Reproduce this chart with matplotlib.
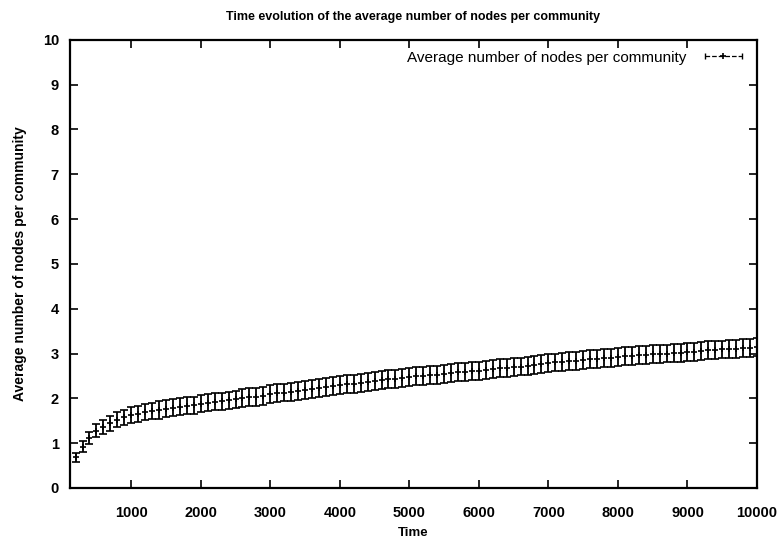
import numpy as np
import matplotlib
matplotlib.use("Agg")
import matplotlib.pyplot as plt
from matplotlib.lines import Line2D
from matplotlib.legend_handler import HandlerTuple, HandlerLine2D

plt.rcParams["font.family"] = ["Liberation Sans", "DejaVu Sans"]

# sampling times
times = np.arange(200, 10001, 100)

# average number of nodes per community
avgNodes = [
    0.68, 0.92, 1.12, 1.28, 1.36, 1.44, 1.52, 1.58, 1.63, 1.66,
    1.69, 1.72, 1.74, 1.77, 1.79, 1.81, 1.83, 1.85, 1.88, 1.90,
    1.92, 1.94, 1.96, 1.98, 2.00, 2.02, 2.04, 2.06, 2.09, 2.11,
    2.13, 2.15, 2.17, 2.19, 2.21, 2.23, 2.25, 2.27, 2.29, 2.31,
    2.33, 2.35, 2.37, 2.39, 2.41, 2.43, 2.44, 2.46, 2.47, 2.49,
    2.50, 2.52, 2.53, 2.55, 2.56, 2.58, 2.59, 2.61, 2.62, 2.64,
    2.65, 2.67, 2.68, 2.70, 2.71, 2.73, 2.75, 2.77, 2.78, 2.80,
    2.81, 2.83, 2.84, 2.85, 2.87, 2.88, 2.89, 2.91, 2.92, 2.94,
    2.95, 2.96, 2.97, 2.98, 2.99, 3.00, 3.01, 3.02, 3.03, 3.04,
    3.05, 3.07, 3.08, 3.09, 3.10, 3.11, 3.12, 3.13, 3.14,
]

# error bar half heights
errNodes = [
    0.10, 0.12, 0.13, 0.14, 0.15, 0.16, 0.17, 0.17, 0.18, 0.18,
    0.18, 0.18, 0.19, 0.19, 0.19, 0.19, 0.19, 0.19, 0.19, 0.19,
    0.19, 0.19, 0.19, 0.19, 0.20, 0.20, 0.20, 0.20, 0.20, 0.20,
    0.20, 0.20, 0.20, 0.20, 0.20, 0.20, 0.20, 0.20, 0.20, 0.20,
    0.20, 0.20, 0.20, 0.20, 0.20, 0.20, 0.20, 0.20, 0.20, 0.20,
    0.20, 0.20, 0.20, 0.20, 0.20, 0.20, 0.20, 0.20, 0.20, 0.20,
    0.20, 0.20, 0.20, 0.20, 0.20, 0.20, 0.20, 0.20, 0.20, 0.20,
    0.20, 0.20, 0.20, 0.20, 0.20, 0.20, 0.20, 0.20, 0.20, 0.20,
    0.20, 0.20, 0.20, 0.20, 0.20, 0.20, 0.20, 0.20, 0.20, 0.20,
    0.20, 0.20, 0.20, 0.20, 0.20, 0.20, 0.20, 0.20, 0.20,
]

xTicks = [1000, 2000, 3000, 4000, 5000, 6000, 7000, 8000, 9000, 10000]
yTicks = [0, 1, 2, 3, 4, 5, 6, 7, 8, 9, 10]

fig = plt.figure(figsize=(7.78, 5.38), dpi=100)
ax = fig.add_axes([0.090, 0.093, 0.883, 0.833])

ax.errorbar(
    times,
    avgNodes,
    yerr=errNodes,
    fmt="+",
    color="black",
    ms=4,
    mew=1.2,
    elinewidth=1.3,
    capsize=3,
    capthick=1.3,
)

ax.set_xlim(120, 10000)
ax.set_ylim(0, 10)
ax.set_xticks(xTicks)
ax.set_yticks(yTicks)
ax.tick_params(direction="in", top=True, right=True, length=6, width=1.2,
               labelsize=10.5)
ax.tick_params(axis="x", pad=13)
ax.tick_params(axis="y", pad=8)
for lab in ax.get_xticklabels() + ax.get_yticklabels():
    lab.set_fontweight("bold")
for s in ax.spines.values():
    s.set_linewidth(1.6)

ax.set_title("Time evolution of the average number of nodes per community",
             fontsize=9, fontweight="bold", pad=14)
ax.set_xlabel("Time", fontsize=9.5, fontweight="bold", labelpad=5)
ax.set_ylabel("Average number of nodes per community", fontsize=10,
              fontweight="bold", labelpad=11)

keyLine = Line2D([], [], color="black", lw=0.9, ls="--", marker="|", ms=5)
keyMid = Line2D([], [], color="black", lw=0, marker="+", ms=5, mew=1.2)
ax.legend(
    [(keyLine, keyMid)],
    ["Average number of nodes per community"],
    loc="upper right",
    frameon=False,
    markerfirst=False,
    fontsize=11,
    handlelength=3.0,
    handletextpad=0.9,
    borderaxespad=0.3,
    handler_map={
        tuple: HandlerTuple(),
        keyLine: HandlerLine2D(numpoints=2),
        keyMid: HandlerLine2D(numpoints=1),
    },
)

plt.savefig("out.png", dpi=100)
